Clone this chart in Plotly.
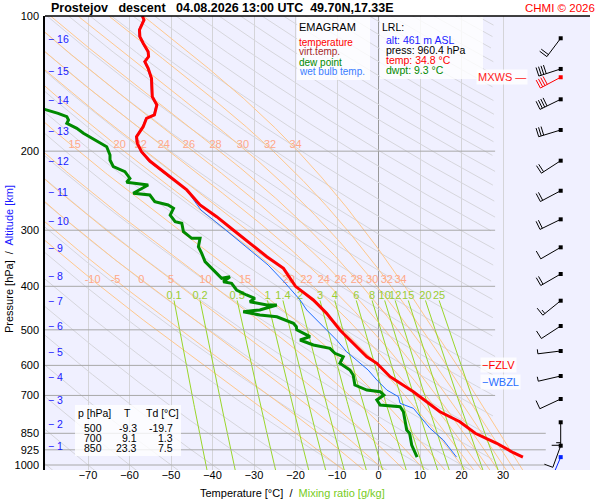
import numpy as np
import plotly.graph_objects as go

# ------------------------------------------------------------------ data
temp_p = [100, 102, 107.4, 111.2, 115, 120.1, 123.2, 126.4, 130.8, 137.6, 151.3, 157.8, 166.1,
          169, 176.4, 185.7, 192.1, 200.6, 210.4, 228, 244, 263.6, 279.9, 299.7, 320.8, 343.6,
          364.7, 400, 429, 459.4, 500.4, 535.7, 573.9, 593.6, 635.8, 686.7, 722.8, 760.9,
          800.9, 850, 894.7, 938.9, 960.4]
temp_T = [-56.9, -56.5, -57.6, -57.5, -56.7, -55.5, -55.4, -56.3, -55.5, -54.7, -54.5, -53.4, -54.0,
          -55.9, -56.7, -58.3, -58.1, -57.1, -55.1, -50.2, -46.2, -43.0, -39.0, -35.0, -31.0, -26.9,
          -22.9, -20.0, -15.7, -12.5, -9.3, -6.1, -2.8, -0.4, 2.8, 8.4, 11.6, 14.8,
          19.6, 23.3, 28.5, 32.5, 34.8]

dew_p = [158, 161.4, 164.7, 167.6, 170.5, 173.4, 177.9, 182.5, 187.2, 192.1, 195.5, 204, 209.3,
         216.6, 222.2, 229.9, 234.6, 237.9, 248.2, 250.4, 259.2, 263.6, 268.1, 277.5, 287.2, 289.5,
         302.3, 312.7, 312.7, 326.5, 337.7, 352.5, 364.7, 383.9, 380.7, 390.6, 393.8, 407.6, 418.2,
         425.4, 432.8, 440.2, 440.2, 451.6, 455.6, 463.4, 467.5, 483.5, 492, 500, 517.9, 526.7,
         540.4, 549.7, 563.9, 573.9, 593.6, 614.4, 630.3, 663.5, 680.8, 686.7, 698.4, 716.5, 735.1,
         741.6, 760.9, 835.7, 850, 902.5, 960.4]
dew_T = [-84, -80.2, -77.2, -75.1, -74.7, -75.1, -72.7, -71.1, -69.1, -67.1, -65.5, -64.7, -64.7,
         -63.9, -61.1, -59.9, -60.7, -55.5, -59.1, -55.1, -53.9, -50.7, -49.4, -50.2, -49.0, -47.4,
         -47.0, -45.0, -43.0, -43.4, -42.6, -41.8, -40.2, -37.8, -35.8, -37.4, -35.4, -34.2, -31.8,
         -29.8, -31.0, -26.9, -24.5, -28.6, -32.6, -28.6, -24.5, -20.5, -19.8, -19.7, -16.5, -18.9,
         -15.7, -11.7, -10.5, -8.5, -9.3, -6.9, -6.1, -5.7, -2.8, 0.4, 1.3, -0.4, 0.4,
         5.2, 6.0, 6.8, 7.5, 8.0, 9.3]

wb_p = [100, 102, 107.4, 111.2, 115, 120.1, 123.2, 126.4, 130.8, 137.6, 151.3, 157.8, 166.1, 169,
        176.4, 185.7, 192.1, 200.6, 210.4, 228, 241.6, 270.4, 299.7, 332, 358.6, 393.2, 429, 451.6,
        475.4, 500.4, 526.7, 559.3, 593.6, 614.4, 646.7, 680.8, 704.5, 728.8, 747.7, 780.6, 828.4,
        879.7, 941.8, 960.4]
wb_T = [-57.1, -56.7, -57.8, -57.7, -56.9, -55.7, -55.6, -56.5, -55.7, -54.9, -54.7, -53.6, -54.2, -56.1,
        -56.9, -58.5, -58.3, -57.3, -55.4, -50.6, -46.6, -42.8, -36.8, -31.0, -26.6, -22.5, -18.9, -17.3,
        -14.9, -12.5, -10.1, -7.7, -4.5, -2.5, -0.4, 2.0, 4.8, 5.2, 8.4, 10.0, 12.4,
        15.6, 18.0, 18.8]

alt_km = [16, 15, 14, 13, 12, 11, 10, 9, 8, 7, 6, 5, 4, 3, 2, 1]
alt_p = [112.5, 132.4, 153.9, 180.4, 210.4, 246, 285.7, 329, 379, 430.6, 490, 561, 638, 717.6, 809, 906]

wind_p = [112.1, 131.2, 153.3, 179.4, 210, 245, 283.7, 327.5, 375.5, 430.6, 490.2, 557.3, 633.6,
          712.9, 803.3, 905.7]
wind_dir = [217, 252, 244, 253, 237, 242, 244, 240, 240, 231, 237, 263, 257, 245, 180, 200]
wind_kt = [20, 40, 40, 30, 20, 20, 20, 10, 20, 15, 10, 5, 5, 10, 15, 10]
mxws_p, mxws_dir, mxws_kt = 136.9, 242, 40
sfc_p, sfc_dir, sfc_kt = 960.4, 203, 10

isobars = [200, 300, 400, 500, 600, 700, 850, 925, 1000]
isobars_long = [850, 925, 1000]
pressure_ticks = [100, 200, 300, 400, 500, 600, 700, 850, 925, 1000]
temp_ticks = [-70, -60, -50, -40, -30, -20, -10, 0, 10, 20, 30]
theta_w = [-10, -5, 0, 5, 10, 15, 20, 22, 24, 26, 28, 30, 32, 34]
mix_ratios = [0.1, 0.2, 0.5, 1, 1.4, 2, 3, 4, 6, 8, 10, 12, 15, 20, 25]
dry_theta = list(range(-80, 330, 10))

table_p = [500, 700, 850]
table_T = [-9.3, 9.1, 23.3]
table_Td = [-19.7, 1.3, 7.5]

station, mode, when, where = "Prostejov", "descent", "04.08.2026 13:00 UTC", "49.70N,17.33E"
lrl_alt, lrl_press, lrl_temp, lrl_dwpt = 461, 960.4, 34.8, 9.3
fzlv_p, wbzl_p = 600, 652

# ------------------------------------------------------------------ layout geometry
W, H = 600, 500
ML, MR, MT, MB = 45, 10, 16, 30
PX_C = 4.15          # px per degC
X0 = 378.5           # px of 0 degC
PX_DEC = 449.0       # px per decade of pressure
x_lo = (ML - X0) / PX_C
x_hi = (W - MR - X0) / PX_C
y_bot = 2.0 + (H - MB - MT) / PX_DEC
FONT = "Liberation Sans, Arial, sans-serif"


def pap(px, py):
    return (px - ML) / (W - ML - MR), (H - MB - py) / (H - MT - MB)


def tx(px):
    return (px - X0) / PX_C


# ------------------------------------------------------------------ thermodynamics
RD, CP, LV, EPS = 287.04, 1005.7, 2.501e6, 0.622


def sat_vp(tc):
    return 6.112 * np.exp(17.67 * tc / (tc + 243.5))


def dTdp(p, T):
    e = sat_vp(T - 273.15)
    rs = EPS * e / (p - e)
    return (RD * T + LV * rs) / (p * (CP + LV * LV * rs * EPS / (RD * T * T)))


def integrate(T0, ps):
    out = [T0]
    T = T0
    for i in range(len(ps) - 1):
        p, h = ps[i], ps[i + 1] - ps[i]
        k1 = dTdp(p, T)
        k2 = dTdp(p + h / 2, T + h * k1 / 2)
        k3 = dTdp(p + h / 2, T + h * k2 / 2)
        k4 = dTdp(p + h, T + h * k3)
        T = T + h * (k1 + 2 * k2 + 2 * k3 + k4) / 6
        out.append(T)
    return np.array(out)


p_up = np.geomspace(1000, 100, 361)
p_dn = np.geomspace(1000, 1030, 6)


def moist(tw):
    tu = integrate(tw + 273.15, p_up)
    td = integrate(tw + 273.15, p_dn)
    p = np.concatenate([p_dn[::-1], p_up[1:]])
    t = np.concatenate([td[::-1], tu[1:]]) - 273.15
    return p, t


def mix_td(r_gkg, p):
    r = r_gkg / 1000.0
    e = r * p / (EPS + r)
    g = np.log(e / 6.112)
    return 243.5 * g / (17.67 - g)


fig = go.Figure()

# dry adiabats
p_dry = np.geomspace(100, 1030, 200)
xs, ys = [], []
for th in dry_theta:
    t = (th + 273.15) * (p_dry / 1000.0) ** 0.2857 - 273.15
    for tt, pp in zip(t, p_dry):
        if x_lo - 40 < tt <= 28.1:
            xs.append(tt); ys.append(pp)
        else:
            xs.append(None); ys.append(None)
    xs.append(None); ys.append(None)
fig.add_trace(go.Scatter(x=xs, y=ys, mode="lines", line=dict(color="#d6d6dc", width=1),
                         hoverinfo="skip", showlegend=False))

# moist adiabats
xs, ys = [], []
lab200_x, lab200_y, lab200_t = [], [], []
lab400_x, lab400_y, lab400_t = [], [], []
for tw in theta_w:
    p, t = moist(tw)
    xs += list(t) + [None]
    ys += list(p) + [None]
    t194 = float(np.interp(np.log(194.0), np.log(p[::-1]), t[::-1]))
    t388 = float(np.interp(np.log(387.6), np.log(p[::-1]), t[::-1]))
    if t194 > -78:
        lab200_x.append(t194 + 0.8); lab200_y.append(194.0); lab200_t.append(str(tw))
    lab400_x.append(t388); lab400_y.append(387.6); lab400_t.append(str(tw))
fig.add_trace(go.Scatter(x=xs, y=ys, mode="lines", line=dict(color="#ffc88c", width=1),
                         hoverinfo="skip", showlegend=False))

# mixing ratio lines
p_mix = np.geomspace(430, 1030, 60)
xs, ys, lx, ly, lt = [], [], [], [], []
for r in mix_ratios:
    xs += list(mix_td(r, p_mix)) + [None]
    ys += list(p_mix) + [None]
    lx.append(float(mix_td(r, 430.0))); ly.append(420.4); lt.append(f"{r:g}")
fig.add_trace(go.Scatter(x=xs, y=ys, mode="lines", line=dict(color="#9ad62a", width=1),
                         hoverinfo="skip", showlegend=False))

# isobars
xs, ys = [], []
for p in isobars:
    xe = 40.3 if p in isobars_long else 28.1
    xs += [x_lo, xe, None]
    ys += [p, p, None]
fig.add_trace(go.Scatter(x=xs, y=ys, mode="lines", line=dict(color="#a8a8a8", width=1),
                         hoverinfo="skip", showlegend=False))

# labels of adiabats / mixing ratio
fig.add_trace(go.Scatter(x=lab200_x + lab400_x, y=lab200_y + lab400_y, text=lab200_t + lab400_t,
                         mode="text", textfont=dict(family=FONT, size=11, color="#ffa888"),
                         hoverinfo="skip", showlegend=False))
fig.add_trace(go.Scatter(x=lx, y=ly, text=lt, mode="text",
                         textfont=dict(family=FONT, size=11, color="#9acd32"),
                         hoverinfo="skip", showlegend=False))

# profiles
fig.add_trace(go.Scatter(x=wb_T, y=wb_p, mode="lines", line=dict(color="#1f6fff", width=1),
                         hoverinfo="skip", showlegend=False))
fig.add_trace(go.Scatter(x=dew_T, y=dew_p, mode="lines", line=dict(color="#008a00", width=3),
                         hoverinfo="skip", showlegend=False))
fig.add_trace(go.Scatter(x=temp_T, y=temp_p, mode="lines", line=dict(color="#ff0000", width=3),
                         hoverinfo="skip", showlegend=False))

# wind barbs
BARB_X = tx(560.7)
STAFF, FULL, HALF, GAP = 23.0, 9.0, 4.5, 2.6


def barb_screen(p0, ux, uy, spd):
    sx, sy = ux * STAFF, uy * STAFF
    px_, py_ = -uy, ux

    def pt(dx, dy):
        return BARB_X + dx / PX_C, p0 * 10 ** (dy / PX_DEC)

    segs = [[(0, 0), (sx, sy)]]
    n_full, half = spd // 10, (spd % 10) >= 5
    k = 0
    for i in range(n_full):
        bx, by = sx - ux * GAP * k, sy - uy * GAP * k
        segs.append([(bx, by), (bx + px_ * FULL, by + py_ * FULL)])
        k += 1
    if half:
        bx, by = sx - ux * GAP * k, sy - uy * GAP * k
        segs.append([(bx, by), (bx + px_ * HALF, by + py_ * HALF)])
    xs, ys = [], []
    for a, b in segs:
        for q in (a, b):
            xx, yy = pt(q[0], q[1])
            xs.append(xx); ys.append(yy)
        xs.append(None); ys.append(None)
    return xs, ys


def add_barbs(ps, ds, ss, color):
    xs, ys = [], []
    for p0, d, s in zip(ps, ds, ss):
        rad = np.radians(d)
        bx, by = barb_screen(p0, np.sin(rad), -np.cos(rad), s)
        xs += bx; ys += by
    fig.add_trace(go.Scatter(x=xs, y=ys, mode="lines", line=dict(color=color, width=1),
                             hoverinfo="skip", showlegend=False))
    fig.add_trace(go.Scatter(x=[BARB_X] * len(ps), y=ps, mode="markers",
                             marker=dict(symbol="square", size=4, color=color),
                             hoverinfo="skip", showlegend=False))


add_barbs(wind_p, wind_dir, wind_kt, "#000000")
add_barbs([mxws_p], [mxws_dir], [mxws_kt], "#ff0000")
add_barbs([sfc_p], [sfc_dir], [sfc_kt], "#0022ff")

# ------------------------------------------------------------------ boxes and texts
shapes = []


def box(x0, y0, x1, y1):
    a0, b0 = pap(x0, y1)
    a1, b1 = pap(x1, y0)
    shapes.append(dict(type="rect", xref="paper", yref="paper", x0=a0, y0=b0, x1=a1, y1=b1,
                       fillcolor="rgba(255,255,255,0.8)", line=dict(width=0), layer="above"))


box(297, 17, 370, 80)
box(380, 17, 483, 79)
box(75, 405, 181, 456)
a0, b0 = pap(45, 16)
a1, _ = pap(590, 16)
shapes.append(dict(type="line", xref="paper", yref="paper", x0=a0, x1=a1, y0=b0, y1=b0,
                   line=dict(color="black", width=1.5), layer="above"))

anns = []


def ann(text, px, py, size, color, xanchor="left", **kw):
    a, b = pap(px, py)
    anns.append(dict(text=text, x=a, y=b, xref="paper", yref="paper", xanchor=xanchor,
                     yanchor="middle", showarrow=False, borderpad=0,
                     font=dict(family=FONT, size=size, color=color), **kw))


NB = "\u00a0"
ann(f"<b>{station}{NB*2} {mode}{NB*2} {when}{NB} {where}</b>", 50, 8, 12.5, "black")
ann("CHMI \u00a9 2026", 596, 8, 11.5, "#ff0000", xanchor="right")

ann("EMAGRAM", 298, 27, 11, "black")
ann("temperature", 298, 42, 10, "#ff0000")
ann("virt.temp.", 298, 52, 10, "#a52a2a")
ann("dew point", 298, 62, 10, "#008a00")
ann("wet bulb temp.", 298, 72, 10, "#3a7dff")

ann("LRL:", 381, 27, 10.5, "black")
ann(f"alt: {lrl_alt} m ASL", 385, 40, 10.5, "#1a1aff")
ann(f"press: {lrl_press:.1f} hPa", 385, 50, 10.5, "black")
ann(f"temp: {lrl_temp:.1f} \u00b0C", 385, 60, 10.5, "#ff0000")
ann(f"dwpt: {lrl_dwpt:.1f} \u00b0C", 385, 70, 10.5, "#008a00")

ann("p [hPa]", 77, 413, 10.5, "black")
ann("T", 127, 413, 10.5, "black", xanchor="center")
ann("Td [\u00b0C]", 145, 413, 10.5, "black")
for i, (pp, tt, dd) in enumerate(zip(table_p, table_T, table_Td)):
    yy = 428 + 10 * i
    ann(str(pp), 103, yy, 10.5, "black", xanchor="right")
    ann(f"{tt:.1f}", 138, yy, 10.5, "black", xanchor="right")
    ann(f"{dd:.1f}", 174, yy, 10.5, "black", xanchor="right")

# altitude labels at their pressure levels
ax_alt, _ = pap(47, 0)
for k, p in zip(alt_km, alt_p):
    anns.append(dict(text=f"\u2212{NB}{k}", x=ax_alt, y=np.log10(p), xref="paper", yref="y",
                     xanchor="left", yanchor="middle", showarrow=False, borderpad=0,
                     font=dict(family=FONT, size=10.5, color="#1a1aff")))

# level labels (positioned at their pressure)
for txt, p, col, xa, xpx in [("\u2212FZLV", fzlv_p, "#ff0000", "left", 480),
                             ("\u2212WBZL", wbzl_p, "#2a6fff", "left", 480),
                             ("MXWS \u2014", mxws_p, "#ff2020", "right", 528)]:
    a, _ = pap(xpx, 0)
    anns.append(dict(text=txt, x=a, y=np.log10(p), xref="paper", yref="y", xanchor=xa,
                     yanchor="middle", showarrow=False, bgcolor="rgba(255,255,255,0.8)",
                     borderpad=1, font=dict(family=FONT, size=11, color=col)))

# axis titles
ann(f"Temperature [\u00b0C]{NB} /{NB} <span style='color:#77cc22'>Mixing ratio [g/kg]</span>",
    292, 493, 11, "black", xanchor="center")
a, b = pap(9, 259)
anns.append(dict(text=f"Pressure [hPa]{NB} /{NB} <span style='color:#1a1aff'>Altitude [km]</span>",
                 x=a, y=b, xref="paper", yref="paper", textangle=-90, showarrow=False,
                 xanchor="center", yanchor="middle", font=dict(family=FONT, size=11, color="black")))

fig.update_layout(
    width=W, height=H, margin=dict(l=ML, r=MR, t=MT, b=MB),
    paper_bgcolor="white", plot_bgcolor="#f0f0ff",
    showlegend=False, shapes=shapes, annotations=anns, hovermode=False,
    font=dict(family=FONT, size=11, color="black"),
    xaxis=dict(range=[x_lo, x_hi], tickvals=temp_ticks, showgrid=True, gridcolor="#d4d4d8",
               gridwidth=1, zeroline=True, zerolinecolor="#999999", zerolinewidth=1,
               showline=False, ticks="", ticklabelstandoff=-3,
               tickfont=dict(size=11, family=FONT, color="black"), fixedrange=True),
    yaxis=dict(type="log", range=[y_bot, 2.0], tickvals=pressure_ticks,
               ticktext=[str(p) for p in pressure_ticks], showgrid=False, zeroline=False,
               showline=True, linecolor="black", linewidth=1.5, ticks="", ticklabelstandoff=2,
               tickfont=dict(size=11, family=FONT, color="black"), fixedrange=True),
)

fig.write_html("out.html", config={"displayModeBar": False},
               post_script="document.body.style.margin='0';")
